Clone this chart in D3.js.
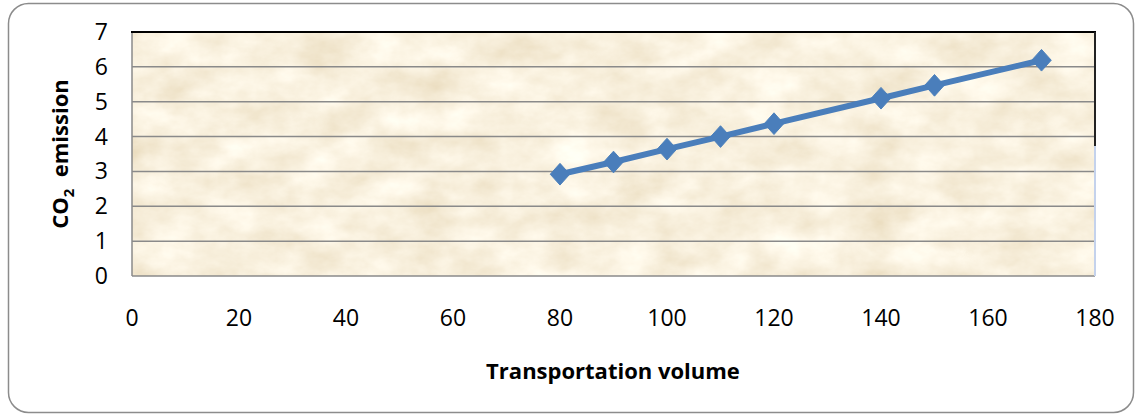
<!DOCTYPE html>
<html>
<head>
<meta charset="utf-8">
<script src="https://cdn.jsdelivr.net/npm/d3@7"></script>
<style>
  body { margin: 0; background: #fff; }
  text { font-family: "Open Sans", "Noto Sans", sans-serif; fill: #000; }
</style>
</head>
<body>
<svg id="chart" width="1137" height="416"></svg>
<script>
const volume = [80, 90, 100, 110, 120, 140, 150, 170];
const emission = [2.92, 3.27, 3.64, 4.0, 4.37, 5.1, 5.47, 6.19];
const xTicks = [0, 20, 40, 60, 80, 100, 120, 140, 160, 180];
const yTicks = [0, 1, 2, 3, 4, 5, 6, 7];

const svg = d3.select("#chart");
const LEFT = 132, RIGHT = 1095, TOP = 32, BOTTOM = 276;

var x = d3.scaleLinear().domain([0, 180]).range([LEFT, RIGHT]);
var y = d3.scaleLinear().domain([0, 7]).range([BOTTOM, TOP]);

// parchment texture, colour built straight from the noise
var defs = svg.append("defs");
var f = defs.append("filter").attr("id", "paper")
  .attr("filterUnits", "userSpaceOnUse")
  .attr("x", LEFT).attr("y", TOP).attr("width", RIGHT - LEFT).attr("height", BOTTOM - TOP);
f.append("feTurbulence").attr("type", "fractalNoise").attr("baseFrequency", "0.02 0.03")
  .attr("numOctaves", 5).attr("seed", 11).attr("result", "noise");
f.append("feColorMatrix").attr("in", "noise").attr("type", "matrix")
  .attr("values", "0.26 0 0 0 0.815  0.34 0 0 0 0.705  0.46 0 0 0 0.5  0 0 0 0 1");

// outer chart frame
svg.append("rect")
  .attr("x", 8.5).attr("y", 3.5).attr("width", 1125).attr("height", 409)
  .attr("rx", 20).attr("ry", 20)
  .attr("fill", "#fff").attr("stroke", "#8c8c8c").attr("stroke-width", 1.5);

// plot area
svg.append("rect")
  .attr("x", LEFT).attr("y", TOP).attr("width", RIGHT - LEFT).attr("height", BOTTOM - TOP)
  .attr("fill", "#efdcb5").attr("filter", "url(#paper)");

// gridlines
svg.selectAll("line.grid")
  .data(yTicks.filter(d => d > 0 && d < 7))
  .enter().append("line")
  .attr("class", "grid")
  .attr("x1", LEFT).attr("x2", RIGHT)
  .attr("y1", d => y(d)).attr("y2", d => y(d))
  .attr("stroke", "#8a8a8a").attr("stroke-width", 1.5);

// plot borders
svg.append("line").attr("x1", LEFT).attr("x2", LEFT).attr("y1", TOP).attr("y2", BOTTOM)
  .attr("stroke", "#8a8a8a").attr("stroke-width", 1.5);
svg.append("line").attr("x1", LEFT).attr("x2", RIGHT).attr("y1", BOTTOM).attr("y2", BOTTOM)
  .attr("stroke", "#8a8a8a").attr("stroke-width", 1.5);
svg.append("line").attr("x1", LEFT - 1).attr("x2", RIGHT + 1).attr("y1", TOP).attr("y2", TOP)
  .attr("stroke", "#000").attr("stroke-width", 2);
svg.append("line").attr("x1", RIGHT).attr("x2", RIGHT).attr("y1", TOP).attr("y2", BOTTOM - 130)
  .attr("stroke", "#222").attr("stroke-width", 2);
svg.append("line").attr("x1", RIGHT).attr("x2", RIGHT).attr("y1", BOTTOM - 130).attr("y2", BOTTOM)
  .attr("stroke", "#c4d2ec").attr("stroke-width", 2);

// tick labels
svg.selectAll("text.ytick")
  .data(yTicks)
  .enter().append("text")
  .attr("class", "ytick")
  .attr("x", 108).attr("y", d => y(d))
  .attr("dy", "0.35em")
  .attr("text-anchor", "end")
  .attr("font-size", 23)
  .text(d => d);

svg.selectAll("text.xtick")
  .data(xTicks)
  .enter().append("text")
  .attr("class", "xtick")
  .attr("x", d => x(d)).attr("y", 318)
  .attr("dy", "0.35em")
  .attr("text-anchor", "middle")
  .attr("font-size", 23)
  .text(d => d);

// axis titles
svg.append("text")
  .attr("x", 613).attr("y", 371).attr("dy", "0.35em")
  .attr("text-anchor", "middle").attr("font-size", 22).attr("font-weight", "bold")
  .text("Transportation volume");

var yt = svg.append("text")
  .attr("transform", "translate(68," + ((TOP + BOTTOM) / 2) + ") rotate(-90)")
  .attr("text-anchor", "middle").attr("font-size", 22).attr("font-weight", "bold");
yt.append("tspan").text("CO");
yt.append("tspan").attr("font-size", 15).attr("dy", 6).text("2");
yt.append("tspan").attr("dy", -6).text("\u00a0 emission");

// series line
var line = d3.line().x(d => x(d[0])).y(d => y(d[1]));
var pts = volume.map((v, i) => [v, emission[i]]);
svg.append("path")
  .datum(pts)
  .attr("d", line)
  .attr("fill", "none").attr("stroke", "#4a7ebb").attr("stroke-width", 6).attr("stroke-linejoin", "round");

svg.selectAll("path.marker")
  .data(pts)
  .enter().append("path")
  .attr("class", "marker")
  .attr("d", d3.symbol().type(d3.symbolDiamond2).size(300))
  .attr("transform", d => "translate(" + x(d[0]) + "," + y(d[1]) + ") scale(0.9,1)")
  .attr("fill", "#4a7ebb").attr("stroke", "#4a7ebb").attr("stroke-width", 1);
</script>
</body>
</html>
